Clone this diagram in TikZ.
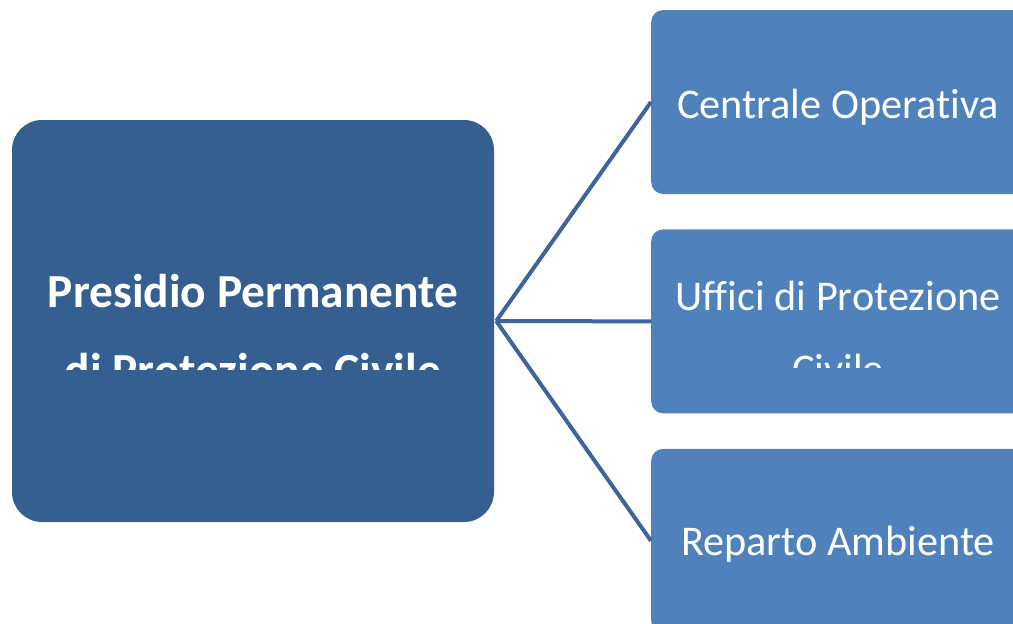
\documentclass[tikz,border=0pt]{standalone}
\usepackage{fontspec}
\setmainfont{Carlito}[Ligatures=NoCommon]
\usetikzlibrary{positioning}
\definecolor{presidioblu}{HTML}{365F91}
\definecolor{ufficioblu}{HTML}{4F81BD}
\definecolor{ramoblu}{HTML}{3D6599}
\tikzset{
  capo/.style={fill=presidioblu, rounded corners=30pt, minimum width=482pt, minimum height=402pt, inner sep=0pt},
  ufficio/.style={fill=ufficioblu, rounded corners=12pt, minimum width=374pt, minimum height=184pt, inner sep=0pt},
  scritta/.style={text=white, align=center, anchor=base, inner sep=0pt},
  ramo/.style={draw=ramoblu, line width=4pt}
}

\begin{document}
\begin{tikzpicture}[x=1pt,y=-1pt]
\useasboundingbox (0,0) rectangle (1013,624);

% boxes
\node[capo] (presidio) at (253,321) {};
\node[ufficio, anchor=west] (centrale) at (651,102) {};
\node[ufficio, below=35pt of centrale] (uffici) {};
\node[ufficio, below=35pt of uffici] (reparto) {};

% connectors
\foreach \figlio in {centrale,uffici,reparto}
  {
    \draw[ramo] ([xshift=2pt]presidio.east) -- (\figlio.west);
  }

% texts (second lines cut off as in the original)
\begin{scope}
  \clip (12,120) rectangle (494,369);
  \node[scritta, font=\bfseries\fontsize{47.4}{79}\selectfont] (titolo) at (253,386) {Presidio Permanente\\di Protezione Civile};
\end{scope}
\node[scritta, font=\fontsize{42.3}{73}\selectfont] (tcentrale) at (838,118) {Centrale Operativa};
\begin{scope}
  \clip (651,229) rectangle (1013,367);
  \node[scritta, font=\fontsize{42.3}{73}\selectfont] (tuffici) at (838,383) {Uffici di Protezione\\Civile};
\end{scope}
\node[scritta, font=\fontsize{42.3}{73}\selectfont] (treparto) at (838,555) {Reparto Ambiente};
\end{tikzpicture}
\end{document}
